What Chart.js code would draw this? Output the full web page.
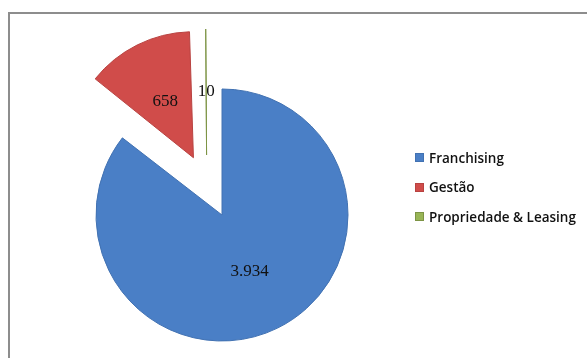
<!DOCTYPE html>
<html>
<head>
<meta charset="utf-8">
<script src="https://cdn.jsdelivr.net/npm/chart.js@4.4.0/dist/chart.umd.min.js"></script>
<style>
  html, body { margin: 0; padding: 0; background: #fff; }
  #wrap { position: relative; width: 587px; height: 358px; overflow: hidden; }
  #frame { position: absolute; left: 8px; top: 12px; width: 620px; height: 400px; border-top: 2px solid #8d8d8d; border-left: 2px solid #8d8d8d; }
  #chart { position: absolute; left: 0; top: 0; }
  #legend { position: absolute; left: 415px; top: 143px; font-family: 'Open Sans', sans-serif; font-size: 13.5px; font-weight: 600; color: #111; }
  #legend .row { height: 29.5px; display: flex; align-items: center; white-space: nowrap; }
  #legend .sw { width: 9px; height: 9px; margin-right: 5px; box-sizing: border-box; }
</style>
</head>
<body>
<div id="wrap">
  <div id="frame"></div>
  <canvas id="chart" width="587" height="358"></canvas>
  <div id="legend"></div>
</div>
<script>
const labels = ['Franchising', 'Gestão', 'Propriedade & Leasing']
const values = [3934, 658, 10]
const colors = ['#4a7fc6', '#d04c4a', '#98b556']
const edges = ['#4272b2', '#b84240', '#7d9445']
// Chart.js draws an arc shifted by offset / 4
const explode = [0, 256, 240]
const nudgeX = [0, 0, -15]

// legend as plain text next to the chart
const legendEl = document.getElementById('legend')
labels.forEach((l, i) => {
  const row = document.createElement('div')
  row.className = 'row'
  const sw = document.createElement('span')
  sw.className = 'sw'
  sw.style.background = colors[i]
  sw.style.border = '1px solid ' + edges[i]
  row.appendChild(sw)
  row.appendChild(document.createTextNode(l))
  legendEl.appendChild(row)
})

// keep exploded slices at the same radius as the rest (Chart.js grows them a bit)
const nudgePlugin = {
  id: 'nudge',
  afterDatasetsUpdate (chart) {
    const meta = chart.getDatasetMeta(0)
    meta.data.forEach((arc, i) => {
      arc.x += nudgeX[i] || 0
      const off = (explode[i] || 0) / 4
      const fix = 1 - Math.sin(Math.min(Math.PI, arc.circumference || 0))
      arc.outerRadius -= off * fix
    })
  }
}

const valueLabels = {
  id: 'valueLabels',
  afterDatasetsDraw (chart) {
    const ctx = chart.ctx
    const meta = chart.getDatasetMeta(0)
    ctx.save()
    ctx.font = '17px "Liberation Serif", serif'
    ctx.fillStyle = '#111'
    ctx.textAlign = 'center'
    ctx.textBaseline = 'middle'
    meta.data.forEach((arc, i) => {
      const half = (arc.startAngle + arc.endAngle) / 2
      const fix = 1 - Math.sin(Math.min(Math.PI, arc.circumference || 0))
      const off = (explode[i] || 0) / 4
      const d = off + (arc.outerRadius + off * fix) / 2
      ctx.fillText(values[i].toLocaleString('pt-BR'), arc.x + Math.cos(half) * d, arc.y + Math.sin(half) * d)
    })
    ctx.restore()
  }
}

new Chart(document.getElementById('chart'), {
  type: 'pie',
  data: {
    labels,
    datasets: [{
      data: values,
      backgroundColor: colors,
      borderColor: edges,
      borderWidth: 1,
      offset: explode
    }]
  },
  options: {
    responsive: false,
    animation: false,
    radius: 126,
    layout: { padding: { left: 0, right: 143, top: 72, bottom: 0 } },
    plugins: {
      legend: { display: false },
      tooltip: { enabled: false }
    }
  },
  plugins: [nudgePlugin, valueLabels]
})
</script>
</body>
</html>
